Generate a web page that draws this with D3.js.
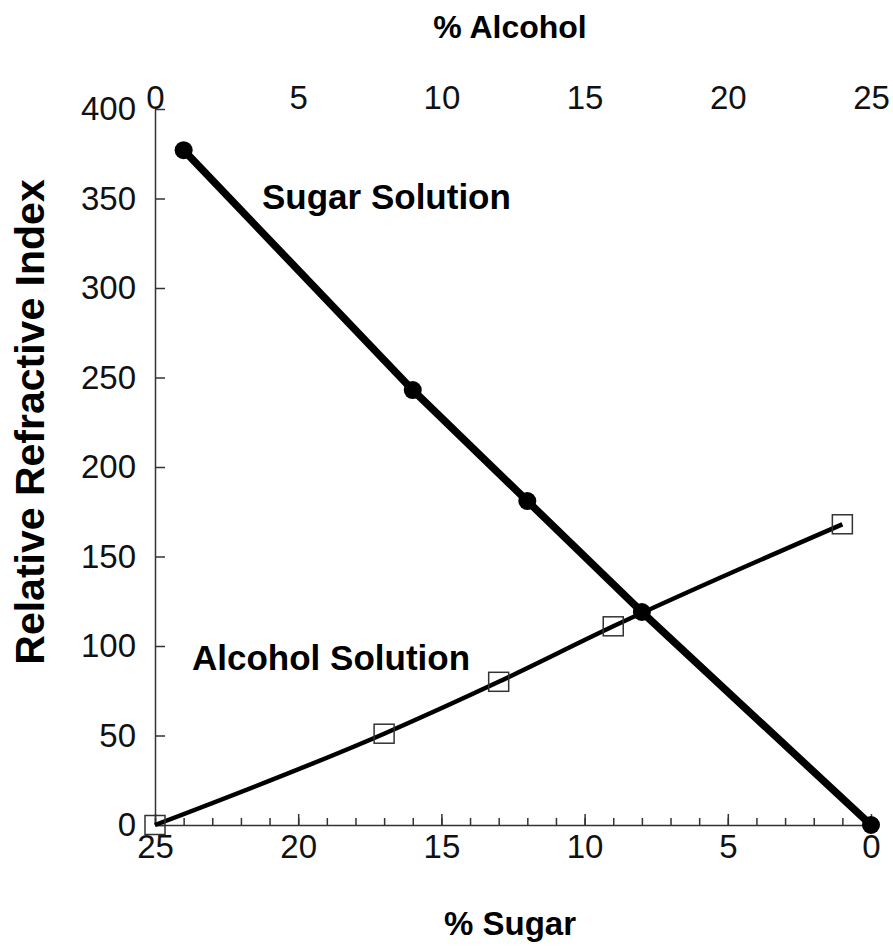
<!DOCTYPE html>
<html>
<head>
<meta charset="utf-8">
<script src="https://cdn.jsdelivr.net/npm/d3@7"></script>
<style>
  body { margin: 0; background: #fff; }
  text { font-family: Arial, "Liberation Sans", sans-serif; }
</style>
</head>
<body>
<div id="chart"></div>
<script>
// sugar solution: % sugar (bottom axis) vs relative refractive index
const sugarPct = [24, 16, 12, 8, 0];
const sugarRI = [377, 243, 181, 119, 0];

// alcohol solution: % alcohol (top axis) vs relative refractive index
const alcoholPct = [0, 8, 12, 16, 24];
const alcoholRI = [0, 51, 80, 111, 168];

const yTicks = [0, 50, 100, 150, 200, 250, 300, 350, 400];
const xTicks = [0, 5, 10, 15, 20, 25];
const xMinorTicks = d3.range(0, 26);

const width = 893;
const height = 947;
const margin = { top: 109, right: 22, bottom: 122, left: 155 };

const svg = d3.select("#chart")
  .append("svg")
  .attr("width", width)
  .attr("height", height);

const sugarX = d3.scaleLinear()
  .domain([25, 0])
  .range([margin.left, width - margin.right]);

const alcoholX = d3.scaleLinear()
  .domain([0, 25])
  .range([margin.left, width - margin.right]);

const y = d3.scaleLinear()
  .domain([0, 400])
  .range([height - margin.bottom, margin.top]);

const tickFont = 33;
const labelFont = 35;
const axisColor = "#333";

// left axis, ticks pointing into the plot
const yAxis = svg.append("g")
  .attr("transform", `translate(${margin.left}, 0)`)
  .call(d3.axisLeft(y).tickValues(yTicks).tickSizeInner(-10).tickSizeOuter(0).tickPadding(19));

// bottom axis, minor ticks every 1 %
svg.append("g")
  .attr("transform", `translate(0, ${y(0)})`)
  .call(d3.axisBottom(sugarX).tickValues(xMinorTicks).tickSize(-7).tickFormat(""))
  .call(g => g.select(".domain").remove());

const xAxis = svg.append("g")
  .attr("transform", `translate(0, ${y(0)})`)
  .call(d3.axisBottom(sugarX).tickValues(xTicks).tickSizeInner(-11).tickSizeOuter(0).tickPadding(10));

// top axis: labels only
const topAxis = svg.append("g")
  .attr("transform", `translate(0, ${y(400)})`)
  .call(d3.axisTop(alcoholX).tickValues(xTicks).tickSize(0).tickPadding(0));
topAxis.select(".domain").remove();

[yAxis, xAxis, topAxis].forEach(g => {
  g.selectAll(".domain").attr("stroke", axisColor).attr("stroke-width", 1.5);
  g.selectAll(".tick text")
    .attr("fill", "#111")
    .style("font-size", tickFont + "px");
});
svg.selectAll(".tick line").attr("stroke", axisColor).attr("stroke-width", 1.5);

// axis titles
svg.append("text")
  .attr("x", 510)
  .attr("y", 38)
  .attr("text-anchor", "middle")
  .style("font-weight", "bold")
  .style("font-size", "32px")
  .text("% Alcohol");

svg.append("text")
  .attr("x", 510)
  .attr("y", 935)
  .attr("text-anchor", "middle")
  .style("font-weight", "bold")
  .style("font-size", "33px")
  .text("% Sugar");

svg.append("text")
  .attr("transform", "translate(44, 422) rotate(-90)")
  .attr("text-anchor", "middle")
  .style("font-weight", "bold")
  .style("font-size", "41px")
  .text("Relative Refractive Index");

// alcohol curve
const alcoholData = alcoholPct.map((p, i) => ({ p, v: alcoholRI[i] }));
const sugarData = sugarPct.map((p, i) => ({ p, v: sugarRI[i] }));

svg.append("path")
  .datum(alcoholData)
  .attr("fill", "none")
  .attr("stroke", "#000")
  .attr("stroke-width", 4.5)
  .attr("d", d3.line().x(d => alcoholX(d.p)).y(d => y(d.v)).curve(d3.curveMonotoneX));

svg.selectAll(".alc-pt")
  .data(alcoholData)
  .enter()
  .append("rect")
  .attr("class", "alc-pt")
  .attr("x", d => alcoholX(d.p) - 10)
  .attr("y", d => y(d.v) - 9.5)
  .attr("width", 20)
  .attr("height", 19)
  .attr("fill", "none")
  .attr("stroke", "#333")
  .attr("stroke-width", 1.5);

// sugar line
svg.append("path")
  .datum(sugarData)
  .attr("fill", "none")
  .attr("stroke", "#000")
  .attr("stroke-width", 7.5)
  .attr("d", d3.line().x(d => sugarX(d.p)).y(d => y(d.v)));

svg.selectAll(".sug-pt")
  .data(sugarData)
  .enter()
  .append("circle")
  .attr("class", "sug-pt")
  .attr("cx", d => sugarX(d.p))
  .attr("cy", d => y(d.v))
  .attr("r", 9)
  .attr("fill", "#000");

// series labels
svg.append("text")
  .attr("x", 262)
  .attr("y", 209)
  .style("font-weight", "bold")
  .style("font-size", labelFont + "px")
  .text("Sugar Solution");

svg.append("text")
  .attr("x", 192)
  .attr("y", 670)
  .style("font-weight", "bold")
  .style("font-size", labelFont + "px")
  .text("Alcohol Solution");
</script>
</body>
</html>
